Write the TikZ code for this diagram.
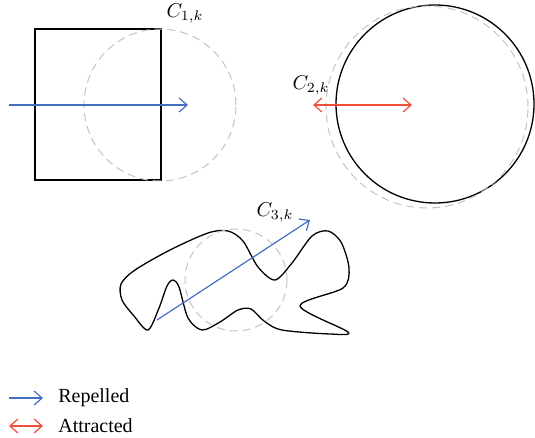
\documentclass[tikz,border=0pt]{standalone}
\usepackage{fontspec}
\setmainfont{Liberation Serif}
\usetikzlibrary{arrows.meta}
\definecolor{repblue}{RGB}{68,110,196}
\definecolor{attred}{RGB}{238,78,58}
\definecolor{ringgray}{RGB}{195,195,195}

\begin{document}
\begin{tikzpicture}[x=0.5pt, y=-0.5pt, line width=0.65pt, font=\fontsize{10}{12}\selectfont,
  guide/.style={ringgray, dash pattern=on 4pt off 2.5pt, line width=0.5pt},
  repel/.style={repblue, line width=0.6pt, -{Straight Barb[length=4pt,width=7pt]}},
  attract/.style={attred, line width=0.6pt, {Straight Barb[length=4pt,width=7pt]}-{Straight Barb[length=4pt,width=7pt]}}]
  \useasboundingbox (0,0) rectangle (535,438);
  % square
  \draw (35,29) rectangle (161,180);
  \draw[guide] (160,105) circle[radius=38pt];
  \coordinate (r1s) at (9,105);
  \coordinate (r1e) at (188,105);
  \draw[repel] (r1s) -- (r1e);
  \node (c1) at (185,14) {$C_{1,k}$};
  % disc
  \draw (435,104) circle[radius=49.5pt];
  \draw[guide] (427,107) circle[radius=50.5pt];
  \coordinate (a2s) at (313,105);
  \coordinate (a2e) at (412,105);
  \draw[attract] (a2s) -- (a2e);
  \node (c2) at (311,86) {$C_{2,k}$};
  % irregular shape
  \draw plot[smooth cycle, tension=0.5] coordinates {
    (148,330) (134,316) (122,300) (121,284) (135,270) (170,250) (208,233)
    (228,231) (243,241) (258,267) (275,280) (292,263) (312,236) (328,231)
    (341,242) (349,268) (343,288) (300,306) (348,332) (330,334) (282,330)
    (264,321) (251,309) (238,310) (220,322) (202,330) (188,318) (179,287)
    (173,280) (167,286) (159,308)};
  \draw[guide] (236,280) circle[radius=25.5pt];
  \coordinate (r3s) at (157,320);
  \coordinate (r3e) at (310,220);
  \draw[repel] (r3s) -- (r3e);
  \node (c3) at (275,213) {$C_{3,k}$};
  % legend
  \coordinate (lr1) at (9,398);
  \coordinate (lr2) at (43,398);
  \coordinate (la1) at (9,426);
  \coordinate (la2) at (43,426);
  \draw[repel] (lr1) -- (lr2);
  \draw[attract] (la1) -- (la2);
  \node[anchor=west] (lrep) at (51,398) {Repelled};
  \node[anchor=west] (latt) at (51,426) {Attracted};
\end{tikzpicture}
\end{document}
